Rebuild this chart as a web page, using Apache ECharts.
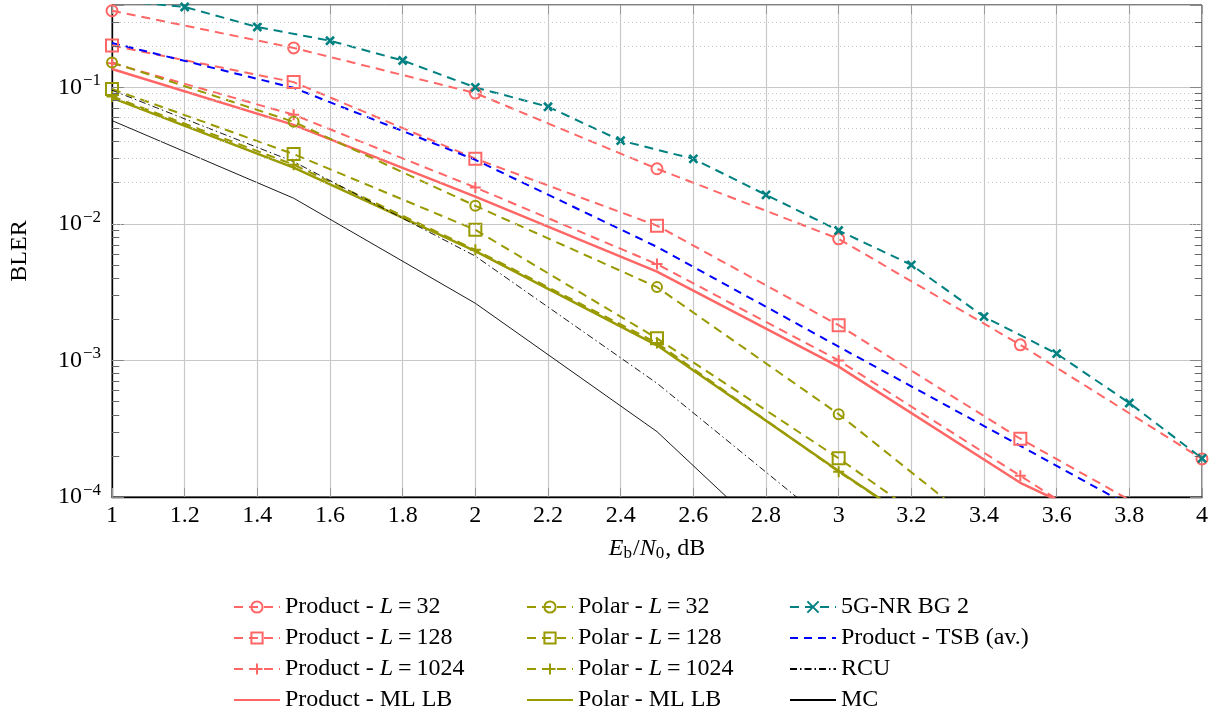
<!DOCTYPE html>
<html>
<head>
<meta charset="utf-8">
<script src="https://cdn.jsdelivr.net/npm/echarts@6/dist/echarts.min.js"></script>
<style>
  html, body { margin: 0; padding: 0; background: #ffffff; }
  #chart { width: 1227px; height: 718px; }
</style>
</head>
<body>
<div id="chart"></div>
<script>
// Eb/N0 grids (dB)
const ebn0Half = [1, 1.5, 2, 2.5, 3, 3.5, 4];
const ebn0Nr = [1.0, 1.2, 1.4, 1.6, 1.8, 2.0, 2.2, 2.4, 2.6, 2.8, 3.0, 3.2, 3.4, 3.6, 3.8, 4.0];

// BLER per scheme
const productL32   = [0.363, 0.194, 0.0906, 0.0253, 0.00776, 0.0013, 0.00019];
const productL128  = [0.202, 0.109, 0.030, 0.0097, 0.00181, 0.000267, 0.000048];
const productL1024 = [0.150, 0.0629, 0.01845, 0.00507, 0.00100, 0.000143, 0.00002];
const productMlLb  = [0.136, 0.053, 0.0158, 0.00447, 0.00090, 0.000127, 0.00003];
const polarL32     = [0.152, 0.0558, 0.01355, 0.00344, 0.000404, 0.000035];
const polarL128    = [0.097, 0.0324, 0.00904, 0.00145, 0.000192, 0.000022];
const polarL1024   = [0.0857, 0.0271, 0.00645, 0.00134, 0.000153, 0.00002];
const polarMlLb    = [0.0836, 0.0258, 0.0063, 0.00129, 0.000155, 0.00002];
const nrBg2        = [0.434, 0.387, 0.276, 0.219, 0.157, 0.0997, 0.072, 0.0407, 0.0299, 0.0163,
                      0.00893, 0.00501, 0.00209, 0.00112, 0.000488, 0.000192];
const productTsb   = [0.211, 0.099, 0.0294, 0.00678, 0.00126, 0.000237, 0.000044];
const rcu          = [0.095, 0.0285, 0.0058, 0.00068, 0.000056];
const mc           = [0.057, 0.0154, 0.00262, 0.000301, 0.000017];

// Axis ranges and ticks
const xMin = 1, xMax = 4, xStep = 0.2;
const yMin = 1e-4, yMax = 0.4;
const decades = [-4, -3, -2, -1];

const SALMON = '#ff6666', OLIVE = '#999900', TEAL = '#008080', BLUE = '#0000ff', BLACK = '#000000';
const NONE = 'rgba(0,0,0,0)';
const FONT = '"Liberation Serif", "DejaVu Serif", serif';
const DASH = [9, 6];

const pair = (xs, ys) => ys.map((y, i) => [xs[i], y]);

const SYM_CIRCLE = 'circle';
const SYM_SQUARE = 'rect';
const SYM_PLUS = 'path://M0,5L10,5M5,0L5,10';
const SYM_CROSS = 'path://M0,0L10,10M10,0L0,10';

function curve(name, xs, ys, color, opts) {
  const o = opts || {};
  const marked = !!o.symbol;
  return {
    name: name,
    type: 'line',
    data: pair(xs, ys),
    symbol: o.symbol || 'none',
    symbolSize: o.symbolSize || 11,
    showSymbol: marked,
    clip: true,
    z: 3,
    lineStyle: { color: color, width: o.width || 2, type: o.dash || 'solid' },
    // curves without marks keep an invisible symbol so their legend key is a bare line
    itemStyle: { color: NONE, borderColor: marked ? color : NONE, borderWidth: o.borderWidth || 2 }
  };
}

// Minor grid lines (2..9 within each decade) and the short ticks on both sides
const minorValues = [];
decades.forEach(d => { for (let k = 2; k <= 9; k++) { const v = k * Math.pow(10, d); if (v < yMax) minorValues.push(v); } });
const minorGrid = minorValues.map(v => ({ yAxis: v }));
const minorTicks = [];
minorValues.forEach(v => {
  minorTicks.push([{ coord: [xMin, v] }, { coord: [xMin + 0.02, v] }]);
  minorTicks.push([{ coord: [xMax - 0.02, v] }, { coord: [xMax, v] }]);
});

const guideSeries = [
  {
    type: 'line', data: [], z: 1, silent: true,
    markLine: {
      silent: true, symbol: 'none', label: { show: false }, animation: false,
      lineStyle: { color: '#c4c4c4', width: 1, type: [1, 3] },
      data: minorGrid
    }
  },
  {
    type: 'line', data: [], z: 2, silent: true,
    markLine: {
      silent: true, symbol: 'none', label: { show: false }, animation: false,
      lineStyle: { color: '#666666', width: 1, type: 'solid' },
      data: minorTicks
    }
  }
];

const series = [
  curve('Product - L = 32', ebn0Half, productL32, SALMON, { symbol: SYM_CIRCLE, dash: DASH }),
  curve('Product - L = 128', ebn0Half, productL128, SALMON, { symbol: SYM_SQUARE, symbolSize: 12, dash: DASH }),
  curve('Product - L = 1024', ebn0Half, productL1024, SALMON, { symbol: SYM_PLUS, symbolSize: 11, dash: DASH }),
  curve('Product - ML LB', ebn0Half, productMlLb, SALMON, { width: 2.5 }),
  curve('Polar - L = 32', ebn0Half, polarL32, OLIVE, { symbol: SYM_CIRCLE, symbolSize: 10, dash: DASH }),
  curve('Polar - L = 128', ebn0Half, polarL128, OLIVE, { symbol: SYM_SQUARE, symbolSize: 12, dash: DASH }),
  curve('Polar - L = 1024', ebn0Half, polarL1024, OLIVE, { symbol: SYM_PLUS, symbolSize: 11, dash: DASH }),
  curve('Polar - ML LB', ebn0Half, polarMlLb, OLIVE, { width: 2.5 }),
  curve('5G-NR BG 2', ebn0Nr, nrBg2, TEAL, { symbol: SYM_CROSS, symbolSize: 8, borderWidth: 2.6, dash: DASH }),
  curve('Product - TSB (av.)', ebn0Half, productTsb, BLUE, { dash: [8, 6] }),
  curve('RCU', ebn0Half, rcu, BLACK, { dash: [7, 3, 1.5, 3], width: 0.9 }),
  curve('MC', ebn0Half, mc, BLACK, { width: 0.9 })
];

const legendText = {
  fontFamily: FONT, fontSize: 24, color: '#000',
  rich: {
    it: { fontFamily: FONT, fontSize: 24, fontStyle: 'italic', color: '#000' },
    eq: { fontFamily: FONT, fontSize: 24, color: '#000', padding: [0, 5, 0, 5] }
  }
};
const legendFmt = name => name.replace('L = ', '{it|L}{eq|=}');
function legendColumn(names, left) {
  return {
    orient: 'vertical', left: left, top: 590, itemWidth: 46, itemHeight: 14, itemGap: 7,
    data: names, textStyle: legendText, formatter: legendFmt, selectedMode: false
  };
}

const yLabel = v => {
  const e = Math.round(Math.log10(v));
  if (Math.abs(Math.log10(v) - e) > 1e-6) return '';
  return '10{sup|\u2212' + Math.abs(e) + '}';
};

const chart = echarts.init(document.getElementById('chart'), null, { renderer: 'canvas' });
chart.setOption({
  animation: false,
  backgroundColor: '#ffffff',
  grid: { left: 112, right: 25, top: 5, bottom: 221, show: true, borderColor: '#000', borderWidth: 1, backgroundColor: 'transparent' },
  legend: [
    legendColumn(['Product - L = 32', 'Product - L = 128', 'Product - L = 1024', 'Product - ML LB'], 228),
    legendColumn(['Polar - L = 32', 'Polar - L = 128', 'Polar - L = 1024', 'Polar - ML LB'], 521),
    legendColumn(['5G-NR BG 2', 'Product - TSB (av.)', 'RCU', 'MC'], 784)
  ],
  xAxis: [
    {
      type: 'value', min: xMin, max: xMax, interval: xStep,
      axisLine: { show: true, lineStyle: { color: '#000', width: 1.3 } },
      axisTick: { show: true, inside: true, length: 9, lineStyle: { color: '#999' } },
      axisLabel: { fontFamily: FONT, fontSize: 24, color: '#000', margin: 7 },
      splitLine: { show: true, lineStyle: { color: '#c8c8c8', width: 1.2 } },
      name: '{it|E}{sub|b}/{it|N}{sub|0}, dB',
      nameLocation: 'middle', nameGap: 38,
      nameTextStyle: {
        fontFamily: FONT, fontSize: 24, color: '#000',
        rich: {
          it: { fontFamily: FONT, fontSize: 24, fontStyle: 'italic' },
          sub: { fontFamily: FONT, fontSize: 17, padding: [10, 1, 0, 0] }
        }
      }
    },
    {
      type: 'value', min: xMin, max: xMax, interval: xStep, position: 'top',
      axisLine: { show: false },
      axisTick: { show: true, inside: true, length: 9, lineStyle: { color: '#999' } },
      axisLabel: { show: false }, splitLine: { show: false }
    }
  ],
  yAxis: [
    {
      type: 'log', logBase: 10, min: yMin, max: yMax,
      axisLine: { show: true, lineStyle: { color: '#000', width: 1.3 } },
      axisTick: { show: true, inside: true, length: 12, lineStyle: { color: '#888' } },
      axisLabel: {
        fontFamily: FONT, fontSize: 24, color: '#000', margin: 11, formatter: yLabel,
        rich: { sup: { fontFamily: FONT, fontSize: 17, padding: [0, 0, 13, 1] } }
      },
      splitLine: { show: true, lineStyle: { color: '#c8c8c8', width: 1.2 } },
      name: 'BLER', nameLocation: 'middle', nameGap: 80,
      nameTextStyle: { fontFamily: FONT, fontSize: 24, color: '#000' }
    },
    {
      type: 'log', logBase: 10, min: yMin, max: yMax, position: 'right',
      axisLine: { show: false },
      axisTick: { show: true, inside: true, length: 12, lineStyle: { color: '#888' } },
      axisLabel: { show: false }, splitLine: { show: false }
    }
  ],
  series: guideSeries.concat(series)
});
</script>
</body>
</html>
